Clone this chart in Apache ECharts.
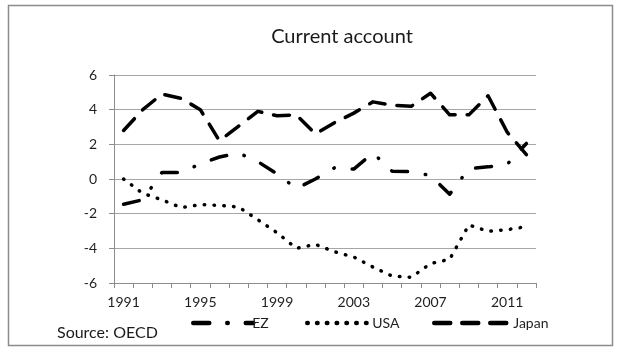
<!DOCTYPE html>
<html>
<head>
<meta charset="utf-8">
<script src="https://cdn.jsdelivr.net/npm/echarts@6/dist/echarts.min.js"></script>
<style>
  html, body { margin: 0; padding: 0; background: #fff; }
  #chart { width: 621px; height: 353px; }
</style>
</head>
<body>
<div id="chart"></div>
<script>
// Current account balances, % of GDP
const years = ['1991','1992','1993','1994','1995','1996','1997','1998','1999','2000','2001',
               '2002','2003','2004','2005','2006','2007','2008','2009','2010','2011','2012'];
const ezValues    = [-1.46, -1.2, 0.38, 0.38, 0.87, 1.27, 1.5, 1.0, 0.3, -0.55, 0.0,
                     0.65, 0.57, 1.5, 0.45, 0.42, 0.2, -0.88, 0.6, 0.7, 0.85, 2.05];
const usaValues   = [0.0, -0.83, -1.2, -1.65, -1.48, -1.52, -1.62, -2.35, -3.1, -4.0, -3.77,
                     -4.2, -4.5, -5.08, -5.6, -5.67, -4.88, -4.63, -2.65, -3.02, -2.92, -2.75];
const japanValues = [2.8, 4.0, 4.9, 4.65, 4.0, 2.2, 3.05, 3.9, 3.65, 3.7, 2.6,
                     3.25, 3.8, 4.45, 4.25, 4.2, 4.95, 3.7, 3.7, 4.8, 2.7, 1.4];
const yTicks = { min: -6, max: 6, step: 2 };

const FONT = 'Lato, "Open Sans", sans-serif';
const TEXT = '#1f1f1f';
const chart = echarts.init(document.getElementById('chart'), null, { renderer: 'canvas' });

const base = { type: 'line', symbol: 'none', smooth: false, animation: false };

// one legend box per series so each entry sits in its own slot
function legendEntry(name, left, width, textPad) {
  return {
    data: [name], left: left, top: 311,
    itemWidth: width, itemHeight: 14,
    itemStyle: { opacity: 0 },
    lineStyle: { width: 4.5 },
    textStyle: { fontFamily: FONT, fontSize: 14, color: TEXT, padding: [0, 0, 0, textPad] }
  };
}

chart.setOption({
  backgroundColor: '#fff',
  animation: false,
  title: {
    text: 'Current account',
    left: 337, top: 22, textAlign: 'center',
    textStyle: { fontFamily: FONT, fontSize: 20, fontWeight: 'normal', color: '#1a1a1a' }
  },
  grid: { left: 114, right: 85, top: 75, bottom: 70, containLabel: false },
  legend: [
    legendEntry('EZ', 186, 60, -6),
    legendEntry('USA', 300, 62, -2),
    legendEntry('Japan', 427, 72, 2)
  ],
  xAxis: {
    type: 'category',
    data: years,
    boundaryGap: true,
    axisLine: { onZero: false, lineStyle: { color: '#8c8c8c', width: 1 } },
    axisTick: { show: true, interval: 0, length: 5, lineStyle: { color: '#8c8c8c' } },
    axisLabel: { interval: 3, margin: 12, fontFamily: FONT, fontSize: 14, color: TEXT },
    splitLine: { show: false }
  },
  yAxis: {
    type: 'value',
    min: yTicks.min, max: yTicks.max, interval: yTicks.step,
    axisLine: { show: true, lineStyle: { color: '#8c8c8c', width: 1 } },
    axisTick: { show: true, length: 5, lineStyle: { color: '#8c8c8c' } },
    axisLabel: { margin: 17, fontFamily: FONT, fontSize: 14, color: TEXT },
    splitLine: { show: true, lineStyle: { color: '#a6a6a6', width: 1 } }
  },
  graphic: [
    {
      type: 'rect', silent: true, z: -1,
      shape: { x: 8.5, y: 5.5, width: 604, height: 340 },
      style: { fill: 'none', stroke: '#8c8c8c', lineWidth: 1.5 }
    },
    {
      type: 'text', left: 57, top: 325,
      style: { text: 'Source: OECD', fontFamily: FONT, fontSize: 16, fill: '#1a1a1a' }
    }
  ],
  series: [
    Object.assign({}, base, {
      name: 'EZ', data: ezValues, z: 3,
      lineStyle: { color: '#000', width: 3.5, type: [16, 18, 0.5, 18], cap: 'round', join: 'round' },
      itemStyle: { color: '#000' }
    }),
    Object.assign({}, base, {
      name: 'USA', data: usaValues, z: 2,
      lineStyle: { color: '#000', width: 3.5, type: [0.5, 9.3], cap: 'round', join: 'round' },
      itemStyle: { color: '#000' }
    }),
    Object.assign({}, base, {
      name: 'Japan', data: japanValues, z: 4,
      lineStyle: { color: '#000', width: 3.5, type: [16, 12], cap: 'round', join: 'round' },
      itemStyle: { color: '#000' }
    })
  ]
});
</script>
</body>
</html>
